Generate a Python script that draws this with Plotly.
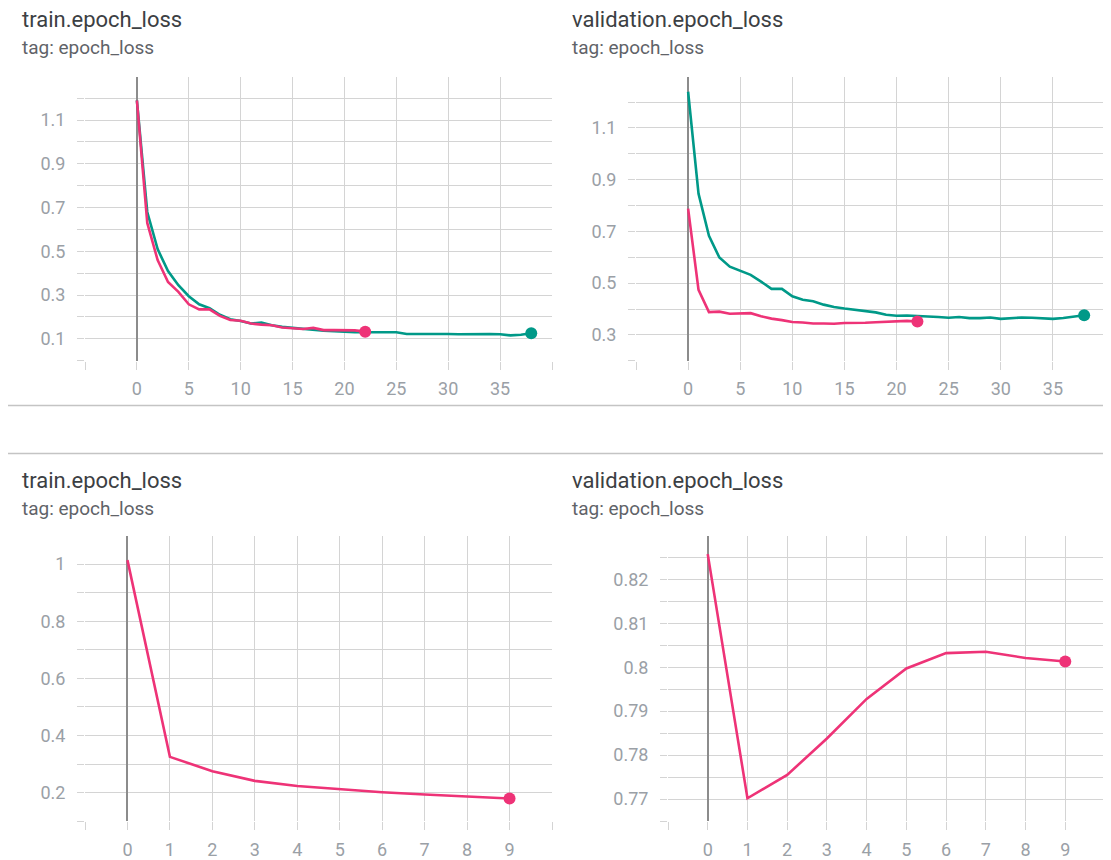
import plotly.graph_objects as go

# ---------------- data ----------------
train_green_x = list(range(0, 39))
train_green_y = [1.19, 0.68, 0.51, 0.41, 0.345, 0.295, 0.258, 0.24, 0.21, 0.19,
                 0.182, 0.17, 0.175, 0.162, 0.155, 0.15, 0.145, 0.14, 0.137, 0.135,
                 0.132, 0.13, 0.13, 0.13, 0.127, 0.13, 0.122, 0.122, 0.125, 0.123,
                 0.122, 0.121, 0.122, 0.124, 0.122, 0.121, 0.116, 0.119, 0.126]
train_pink_x = list(range(0, 23))
train_pink_y = [1.19, 0.63, 0.46, 0.36, 0.315, 0.258, 0.235, 0.235, 0.205, 0.186,
                0.183, 0.17, 0.165, 0.162, 0.152, 0.148, 0.145, 0.15, 0.14, 0.14,
                0.14, 0.139, 0.133]

val_green_x = list(range(0, 39))
val_green_y = [1.24, 0.846, 0.683, 0.599, 0.564, 0.547, 0.532, 0.506, 0.478, 0.478,
               0.449, 0.436, 0.43, 0.417, 0.408, 0.402, 0.397, 0.392, 0.387, 0.378,
               0.374, 0.375, 0.372, 0.371, 0.369, 0.366, 0.369, 0.365, 0.365, 0.367,
               0.362, 0.364, 0.367, 0.366, 0.365, 0.362, 0.365, 0.37, 0.376]
val_pink_x = list(range(0, 23))
val_pink_y = [0.788, 0.474, 0.388, 0.39, 0.382, 0.384, 0.384, 0.372, 0.363, 0.357,
              0.35, 0.348, 0.344, 0.344, 0.343, 0.346, 0.346, 0.347, 0.349, 0.35,
              0.353, 0.354, 0.352]

train2_x = list(range(0, 10))
train2_y = [1.014, 0.325, 0.275, 0.241, 0.223, 0.211, 0.201, 0.193, 0.187, 0.179]

val2_x = list(range(0, 10))
val2_y = [0.8257, 0.7702, 0.7755, 0.7838, 0.7928, 0.7997, 0.8032, 0.8035, 0.8021, 0.8013]

top_xticks = [0, 5, 10, 15, 20, 25, 30, 35]
bottom_xticks = [0, 1, 2, 3, 4, 5, 6, 7, 8, 9]
tl_yticks = [0.1, 0.3, 0.5, 0.7, 0.9, 1.1]
tr_yticks = [0.3, 0.5, 0.7, 0.9, 1.1]
bl_yticks = [0.2, 0.4, 0.6, 0.8, 1.0]
bl_ylabels = ["0.2", "0.4", "0.6", "0.8", "1"]
br_yticks = [0.77, 0.78, 0.79, 0.80, 0.81, 0.82]
br_ylabels = ["0.77", "0.78", "0.79", "0.8", "0.81", "0.82"]

titles = ["train.epoch_loss", "validation.epoch_loss", "train.epoch_loss", "validation.epoch_loss"]
subtitle = "tag: epoch_loss"

# ---------------- style ----------------
# the page body adds an 8px margin; the figure is sized and positioned to compensate
OFF = 8
W, H = 1111 - OFF, 860 - OFF
PINK = "#ee3377"
GREEN = "#009988"
GRID = "#d4d4d4"
ZERO = "#8c8c8c"
TICKFONT = dict(family="Roboto", size=18, color="#9aa0a6")


def px_x(v):
    return (v - OFF) / W


def px_y(v):
    return 1 - (v - OFF) / H


fig = go.Figure()


def add_line(x, y, color, xa, ya):
    fig.add_trace(go.Scatter(x=x, y=y, mode="lines", line=dict(color=color, width=2.6),
                             xaxis=xa, yaxis=ya, showlegend=False, hoverinfo="skip"))
    fig.add_trace(go.Scatter(x=[x[-1]], y=[y[-1]], mode="markers",
                             marker=dict(color=color, size=12),
                             xaxis=xa, yaxis=ya, showlegend=False, hoverinfo="skip"))


add_line(train_green_x, train_green_y, GREEN, "x", "y")
add_line(train_pink_x, train_pink_y, PINK, "x", "y")
add_line(val_green_x, val_green_y, GREEN, "x2", "y2")
add_line(val_pink_x, val_pink_y, PINK, "x2", "y2")
add_line(train2_x, train2_y, PINK, "x3", "y3")
add_line(val2_x, val2_y, PINK, "x4", "y4")


def xaxis(domain, rng, ticks, step, anchor):
    return dict(domain=domain, range=rng, anchor=anchor,
                tickmode="array", tickvals=ticks, ticktext=[str(t) for t in ticks],
                showgrid=True, gridcolor=GRID, gridwidth=1.3,
                ticks="outside", ticklen=8, tickcolor=GRID, tickwidth=1.3,
                minor=dict(dtick=step, tick0=rng[0], showgrid=True, gridcolor=GRID,
                           gridwidth=1.3, ticks="outside", ticklen=8, tickcolor=GRID,
                           tickwidth=1.3),
                zeroline=True, zerolinecolor=ZERO, zerolinewidth=2,
                showline=False, tickfont=TICKFONT, ticklabelstandoff=4,
                fixedrange=True)


def yaxis(domain, rng, ticks, labels, step, anchor):
    return dict(domain=domain, range=rng, anchor=anchor,
                tickmode="array", tickvals=ticks, ticktext=labels,
                showgrid=True, gridcolor=GRID, gridwidth=1.3,
                ticks="outside", ticklen=7, tickcolor=GRID, tickwidth=1.3,
                minor=dict(dtick=step, tick0=rng[0], showgrid=True, gridcolor=GRID,
                           gridwidth=1.3, ticks="outside", ticklen=7, tickcolor=GRID,
                           tickwidth=1.3),
                zeroline=False, showline=False, tickfont=TICKFONT,
                ticklabelstandoff=8, fixedrange=True)


xl = [px_x(85), px_x(552)]
xr_top = [px_x(636), px_x(1105)]
xr_bot = [px_x(668), px_x(1105)]
y_top = [px_y(362), px_y(77)]
y_bot = [px_y(824), px_y(538)]

fig.update_layout(
    xaxis=xaxis(xl, [-5, 40], top_xticks, 5, "y"),
    yaxis=yaxis(y_top, [0, 1.298], tl_yticks, [str(t) for t in tl_yticks], 0.1, "x"),
    xaxis2=xaxis(xr_top, [-5, 40], top_xticks, 5, "y2"),
    yaxis2=yaxis(y_top, [0.2, 1.298], tr_yticks, [str(t) for t in tr_yticks], 0.1, "x2"),
    xaxis3=xaxis(xl, [-1, 10], bottom_xticks, 1, "y3"),
    yaxis3=yaxis(y_bot, [0.1, 1.098], bl_yticks, bl_ylabels, 0.1, "x3"),
    xaxis4=xaxis(xr_bot, [-1, 10], bottom_xticks, 1, "y4"),
    yaxis4=yaxis(y_bot, [0.765, 0.8298], br_yticks, br_ylabels, 0.005, "x4"),
)

# titles
title_pos = [(20, 20, 48), (570, 20, 48), (20, 482, 510), (570, 482, 510)]
annotations = []
for t, (x0, yt, ys) in zip(titles, title_pos):
    annotations.append(dict(text=t, x=px_x(x0), y=px_y(yt), xref="paper", yref="paper",
                            xanchor="left", yanchor="middle", showarrow=False,
                            font=dict(family="Roboto", size=22, color="#3c4043")))
    annotations.append(dict(text=subtitle, x=px_x(x0), y=px_y(ys), xref="paper", yref="paper",
                            xanchor="left", yanchor="middle", showarrow=False,
                            font=dict(family="Roboto", size=19, color="#5f6368")))

shapes = [
    dict(type="line", xref="paper", yref="paper", x0=px_x(8), x1=1, y0=px_y(407), y1=px_y(407),
         line=dict(color="#c4c4c4", width=1.5)),
    dict(type="line", xref="paper", yref="paper", x0=px_x(8), x1=1, y0=px_y(455), y1=px_y(455),
         line=dict(color="#c4c4c4", width=1.5)),
]

fig.update_layout(
    width=W, height=H, margin=dict(l=0, r=0, t=0, b=0),
    paper_bgcolor="white", plot_bgcolor="white",
    annotations=annotations, shapes=shapes, showlegend=False,
)

fig.write_html("out.html", config={"displayModeBar": False})
